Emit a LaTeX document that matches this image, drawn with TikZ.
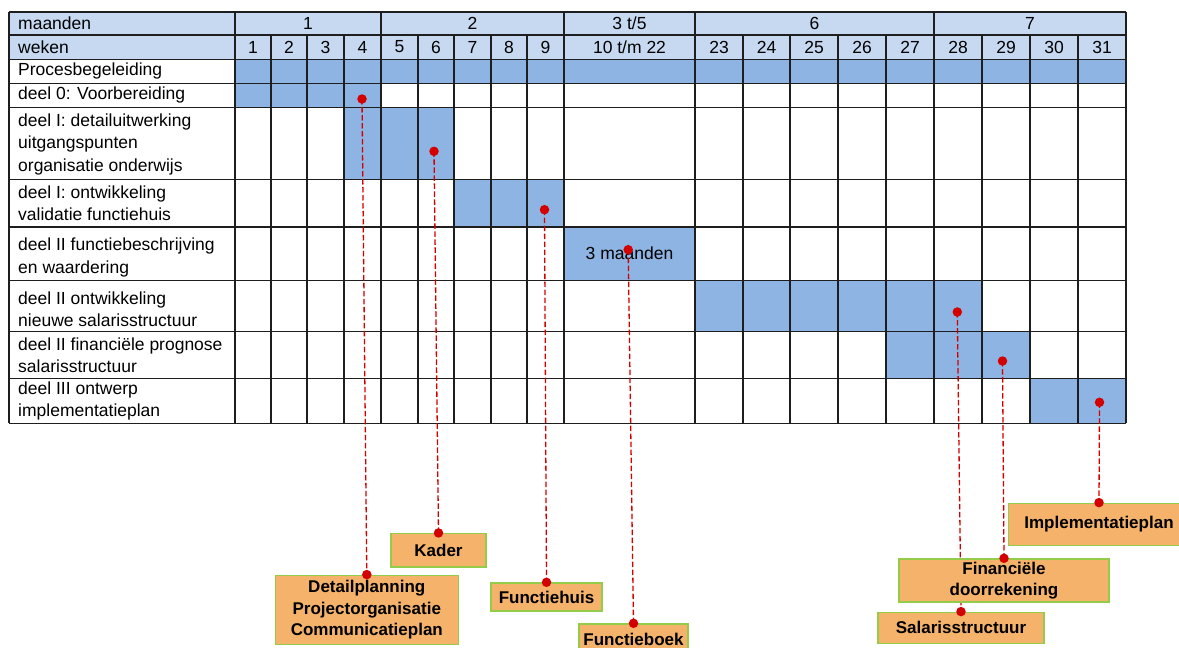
\documentclass[tikz,border=0pt]{standalone}
\usepackage{fontspec}
\setmainfont{Liberation Sans}
\definecolor{hdrblue}{RGB}{198,217,241}
\definecolor{barblue}{RGB}{141,180,226}
\definecolor{dotred}{RGB}{212,0,0}
\definecolor{boxorange}{RGB}{244,178,107}
\definecolor{boxgreen}{RGB}{146,204,72}
\definecolor{gridcol}{RGB}{30,30,30}
\pgfdeclarelayer{front}
\pgfdeclarelayer{top}
\pgfsetlayers{main,front,top}
\tikzset{
  gridline/.style={draw=gridcol, line width=1.3pt},
  lbl/.style={anchor=west, align=left, inner sep=0pt, font=\fontsize{17.5}{22.3}\selectfont},
  ctext/.style={anchor=center, inner sep=0pt, font=\fontsize{17.5}{22.3}\selectfont},
  dot/.style={circle, fill=dotred, inner sep=0pt, minimum size=9.5pt},
  link/.style={draw=dotred, line width=1.3pt, dash pattern=on 5.5pt off 2.5pt},
  result/.style={draw=boxgreen, fill=boxorange, line width=1.4pt, inner sep=0pt, align=center,
    font=\fontsize{17}{21.3}\selectfont\bfseries}
}
\begin{document}
\begin{tikzpicture}[x=1pt,y=-1pt]
\useasboundingbox (0,0) rectangle (1179,648);
\clip (0,0) rectangle (1179,648);
% fills
\fill[hdrblue] (9,12) rectangle (1126,59.3);
\fill[barblue] (235,59.3) rectangle (1126,83.3);
\fill[barblue] (235,83.3) rectangle (381,107.3);
\fill[barblue] (344,107.3) rectangle (454,179.3);
\fill[barblue] (454,179.3) rectangle (564,227);
\fill[barblue] (564,227) rectangle (695,280.3);
\fill[barblue] (695,280.3) rectangle (982,331.7);
\fill[barblue] (886,331.7) rectangle (1030,378.3);
\fill[barblue] (1030,378.3) rectangle (1126,423.3);
% grid
\foreach \y in {12,35,59.3,83.3,107.3,179.3,227,280.3,331.7,378.3,423.3}
  \draw[gridline] (9,\y) -- (1126,\y);
\foreach \x in {9,235,381,564,695,934,1126}
  \draw[gridline] (\x,12) -- (\x,423.3);
\foreach \x in {271,307,344,418,454,491,527,743,790,838,886,982,1030,1078}
  \draw[gridline] (\x,35) -- (\x,423.3);
% row labels
\node[lbl] (l0) at (18,23.5) {maanden};
\node[lbl] (l1) at (18,47) {weken};
\node[lbl] (l2) at (18,71.3) {Procesbegeleiding};
\node[lbl] (l3) at (18,95.3) {deel 0: Voorbereiding};
\node[lbl] (l4) at (18,144.3) {deel I: detailuitwerking\\uitgangspunten\\organisatie onderwijs};
\node[lbl] (l5) at (18,203.5) {deel I: ontwikkeling\\validatie functiehuis};
\node[lbl] (l6) at (18,257.5) {deel II functiebeschrijving\\en waardering};
\node[lbl] (l7) at (18,309) {deel II ontwikkeling\\nieuwe salarisstructuur};
\node[lbl] (l8) at (18,355) {deel II financiële prognose\\salarisstructuur};
\node[lbl] (l9) at (18,401) {deel III ontwerp\\implementatieplan};
% months
\node[ctext] (m1) at (308,23.5) {1};
\node[ctext] (m2) at (472.5,23.5) {2};
\node[ctext] (m3) at (629.5,23.5) {3 t/5};
\node[ctext] (m6) at (814.5,23.5) {6};
\node[ctext] (m7) at (1030,23.5) {7};
% weeks
\foreach \c/\t [count=\i] in {253/1,289/2,325.5/3,362.5/4,399.5/5,436/6,472.5/7,509/8,545.5/9,719/23,766.5/24,814/25,862/26,910/27,958/28,1006/29,1054/30,1102/31}
  \node[ctext] (w\i) at (\c,47) {\t};
\node[ctext] (wmid) at (629.5,47) {10 t/m 22};
\node[ctext] (drie) at (629.5,253) {3 maanden};
% result boxes
\begin{pgfonlayer}{front}
\node[result, minimum width=95pt, minimum height=33.5pt] (kader) at (438.5,550.4) {Kader};
\node[result, minimum width=183pt, minimum height=69pt] (detail) at (366.8,609.8) {Detailplanning\\Projectorganisatie\\Communicatieplan};
\node[result, minimum width=111pt, minimum height=28pt] (fhuis) at (546.5,597) {Functiehuis};
\node[result, minimum width=109pt, minimum height=30pt] (fboek) at (633.5,639) {Functieboek};
\node[result, minimum width=181pt, minimum height=42.4pt] (impl) at (1099,524.5) {Implementatieplan};
\node[result, minimum width=210pt, minimum height=43pt] (fin) at (1004,580.5) {Financiële\\doorrekening};
\node[result, minimum width=166pt, minimum height=31pt] (sal) at (961,627.8) {Salarisstructuur};
\end{pgfonlayer}
% dots
\begin{pgfonlayer}{top}
\node[dot] (s1) at (362,99) {};
\node[dot] (s2) at (434,151.3) {};
\node[dot] (s3) at (544.5,209.7) {};
\node[dot] (s4) at (628.2,249.7) {};
\node[dot] (s5) at (957.3,312) {};
\node[dot] (s6) at (1002.5,361) {};
\node[dot] (s7) at (1099.5,402.3) {};
\node[dot] (e1) at (detail.north) {};
\node[dot] (e2) at (kader.north) {};
\node[dot] (e3) at (fhuis.north) {};
\node[dot] (e4) at (fboek.north) {};
\node[dot] (e5) at (sal.north) {};
\node[dot] (e6) at (fin.north) {};
\node[dot] (e7) at (impl.north) {};
\end{pgfonlayer}
% connectors (above the table, below the boxes)
\draw[link] (s1.center) -- (e1.center);
\draw[link] (s2.center) -- (e2.center);
\draw[link] (s3.center) -- (e3.center);
\draw[link] (s4.center) -- (e4.center);
\draw[link] (s5.center) -- (e5.center);
\draw[link] (s6.center) -- (e6.center);
\draw[link] (s7.center) -- (e7.center);
\end{tikzpicture}
\end{document}
